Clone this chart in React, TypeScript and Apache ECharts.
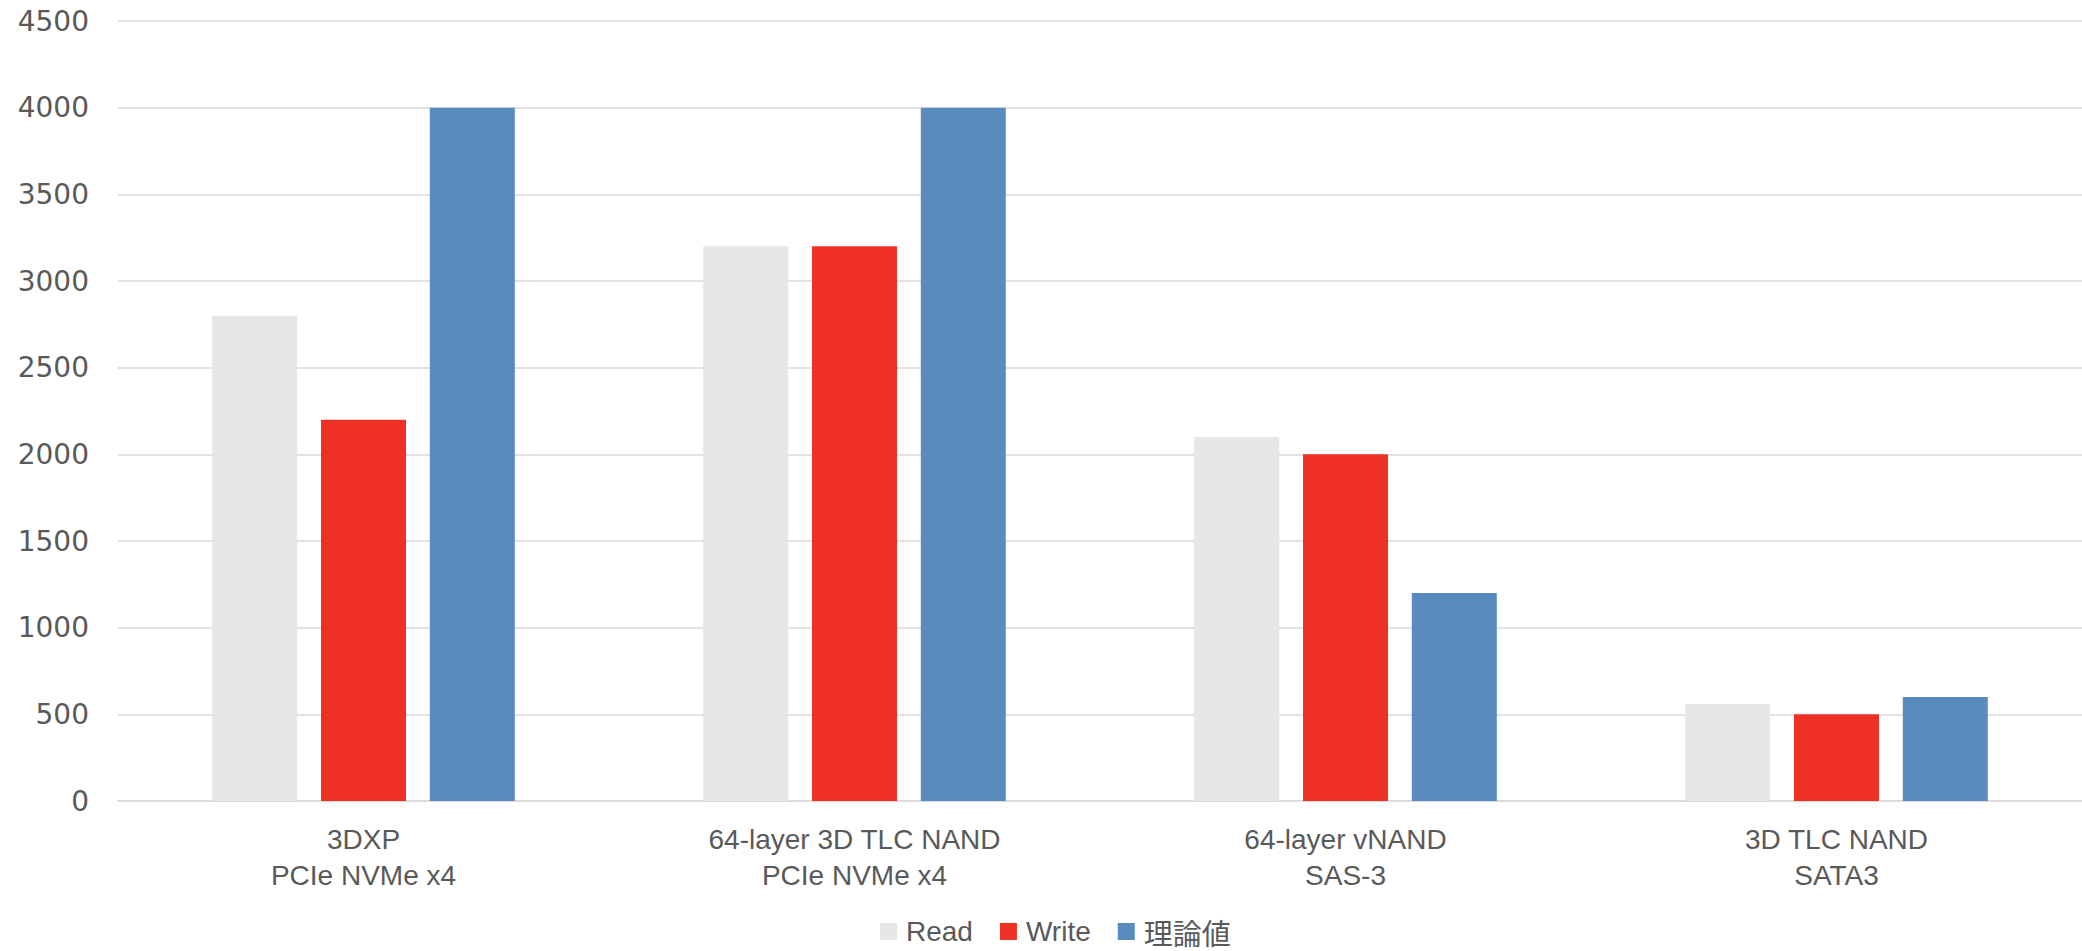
import React, { useEffect, useRef } from "react";
import * as echarts from "echarts";

const categories = [
  "3DXP\nPCIe NVMe x4",
  "64-layer 3D TLC NAND\nPCIe NVMe x4",
  "64-layer vNAND\nSAS-3",
  "3D TLC NAND\nSATA3",
];
const readValues = [2800, 3200, 2100, 560];
const writeValues = [2200, 3200, 2000, 500];
const theoryValues = [4000, 4000, 1200, 600];
const seriesNames = ["Read", "Write", "理論値"];
const seriesColors = ["#E7E7E7", "#EF3025", "#5A8BBE"];

export default function App() {
  const ref = useRef<HTMLDivElement>(null);
  useEffect(() => {
    if (!ref.current) return;
    const chart = echarts.init(ref.current, undefined, { renderer: "svg" });
    const textColor = "#595959";
    const dataSets = [readValues, writeValues, theoryValues];
    chart.setOption({
      animation: false,
      backgroundColor: "#FFFFFF",
      grid: { left: 118, right: 0, top: 21, bottom: 150, containLabel: false },
      legend: {
        left: 875,
        top: 912,
        itemWidth: 17,
        itemHeight: 17,
        itemGap: 27,
        icon: "rect",
        data: seriesNames,
        formatter: (name: string) => (name === "理論値" ? "{cjk|" + name + "}" : "{lat|" + name + "}"),
        textStyle: {
          color: textColor,
          fontSize: 28,
          lineHeight: 26,
          fontFamily: "Liberation Sans",
          padding: [0, 0, 0, 4],
          rich: {
            lat: {
              fontSize: 28,
              lineHeight: 26,
              color: textColor,
              fontFamily: "Liberation Sans",
            },
            cjk: {
              fontSize: 29,
              lineHeight: 26,
              color: textColor,
              fontFamily: "Noto Sans CJK JP",
            },
          },
        },
      },
      xAxis: {
        type: "category",
        data: categories,
        axisLine: { show: true, lineStyle: { color: "#D9D9D9", width: 1.5 } },
        axisTick: { show: false },
        axisLabel: {
          color: textColor,
          fontSize: 28,
          fontFamily: "Liberation Sans",
          lineHeight: 36,
          margin: 20,
          interval: 0,
        },
      },
      yAxis: {
        type: "value",
        min: 0,
        max: 4500,
        interval: 500,
        axisLine: { show: false },
        axisTick: { show: false },
        splitLine: { lineStyle: { color: "#D9D9D9", width: 1.5 } },
        axisLabel: {
          color: textColor,
          fontSize: 28,
          fontFamily: "DejaVu Sans",
          margin: 29,
          formatter: (v: number) => String(v),
        },
      },
      series: seriesNames.map((name, i) => ({
        name,
        type: "bar",
        data: dataSets[i],
        barWidth: 85,
        barGap: "28%",
        itemStyle: { color: seriesColors[i] },
      })),
    });
    return () => chart.dispose();
  }, []);
  return (
    <div
      ref={ref}
      style={{ position: "fixed", left: 0, top: 0, width: 2082, height: 951 }}
    />
  );
}
